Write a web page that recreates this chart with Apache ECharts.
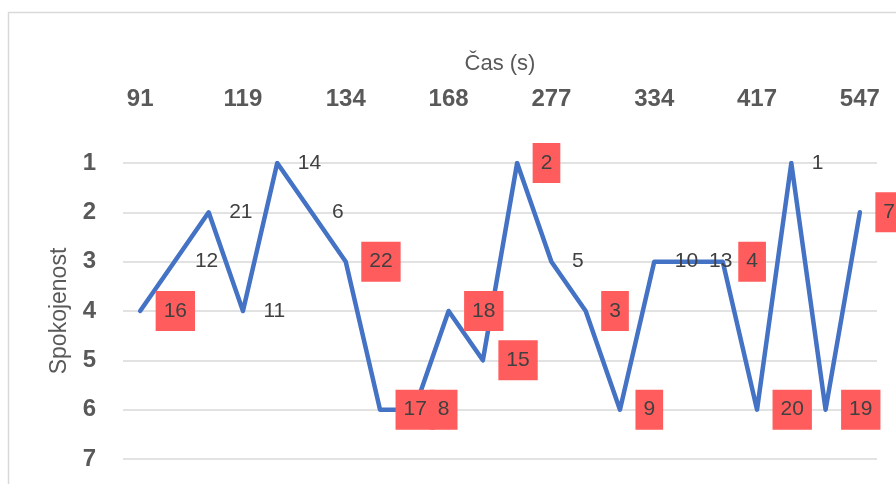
<!DOCTYPE html>
<html>
<head>
<meta charset="utf-8">
<script src="https://cdn.jsdelivr.net/npm/echarts@6/dist/echarts.min.js"></script>
<style>
  html, body { margin: 0; padding: 0; background: #ffffff; }
  #chart { width: 896px; height: 484px; }
</style>
</head>
<body>
<div id="chart"></div>
<script>
// Satisfaction score (1 = best) for each participant, in order of elapsed time
const scores = [4, 3, 2, 4, 1, 2, 3, 6, 6, 4, 5, 1, 3, 4, 6, 3, 3, 3, 6, 1, 6, 2];
// Participant number shown next to each point
const participants = [16, 12, 21, 11, 14, 6, 22, 17, 8, 18, 15, 2, 5, 3, 9, 10, 13, 4, 20, 1, 19, 7];
// Participants whose label is highlighted
const highlighted = [16, 22, 17, 8, 18, 15, 2, 3, 9, 4, 20, 19, 7];
// Time labels (s) printed on every third point
const timeTicks = ['91', '119', '134', '168', '277', '334', '417', '547'];
const TICK_STEP = 3;
// Score scale
const scoreTicks = [1, 2, 3, 4, 5, 6, 7];

const FONT = '"Liberation Sans", Arial, sans-serif';
const AXIS_COLOR = '#595959';
const LABEL_COLOR = '#404040';
const GRID_COLOR = '#d9d9d9';
const HIGHLIGHT = '#ff5d5d';

const categories = scores.map((_, i) => String(i));

const seriesData = scores.map((v, i) => {
  const id = participants[i];
  const hot = highlighted.indexOf(id) !== -1;
  return {
    value: v,
    label: hot
      ? { backgroundColor: HIGHLIGHT, padding: [10, 8, 9, 8], distance: 15 }
      : { distance: 20 }
  };
});

const chart = echarts.init(document.getElementById('chart'), null, { renderer: 'canvas' });

chart.setOption({
  animation: false,
  backgroundColor: '#ffffff',
  textStyle: { fontFamily: FONT },
  graphic: [{
    type: 'rect',
    shape: { x: 8.5, y: 12.5, width: 1200, height: 1200 },
    style: { fill: 'none', stroke: GRID_COLOR, lineWidth: 1.5 },
    silent: true,
    z: -1
  }],
  grid: { left: 123, right: 19, top: 163, bottom: 25, containLabel: false },
  xAxis: {
    type: 'category',
    position: 'top',
    data: categories,
    boundaryGap: true,
    name: 'Čas (s)',
    nameLocation: 'middle',
    nameGap: 88,
    nameTextStyle: { fontFamily: FONT, fontSize: 22, color: AXIS_COLOR },
    axisLine: { show: false },
    axisTick: { show: false },
    splitLine: { show: false },
    axisLabel: {
      interval: TICK_STEP - 1,
      margin: 52,
      fontFamily: FONT,
      fontSize: 24,
      fontWeight: 'bold',
      color: AXIS_COLOR,
      formatter: (val, idx) => (idx % TICK_STEP === 0 ? timeTicks[idx / TICK_STEP] : '')
    }
  },
  yAxis: {
    type: 'value',
    inverse: true,
    min: scoreTicks[0],
    max: scoreTicks[scoreTicks.length - 1],
    interval: 1,
    name: 'Spokojenost',
    nameLocation: 'middle',
    nameGap: 52,
    nameTextStyle: { fontFamily: FONT, fontSize: 23, color: AXIS_COLOR },
    axisLine: { show: false },
    axisTick: { show: false },
    splitLine: { show: true, lineStyle: { color: GRID_COLOR, width: 1.5 } },
    axisLabel: {
      margin: 27,
      fontFamily: FONT,
      fontSize: 24,
      fontWeight: 'bold',
      color: AXIS_COLOR
    }
  },
  series: [{
    type: 'line',
    data: seriesData,
    symbol: 'circle',
    symbolSize: 1,
    showSymbol: true,
    itemStyle: { color: 'rgba(68,114,196,0)' },
    lineStyle: { color: '#4472c4', width: 4.5, join: 'round', cap: 'round' },
    label: {
      show: true,
      position: 'right',
      fontFamily: FONT,
      fontSize: 21,
      color: LABEL_COLOR,
      formatter: (p) => String(participants[p.dataIndex])
    },
    labelLayout: { hideOverlap: false },
    emphasis: { disabled: true }
  }]
});
</script>
</body>
</html>
